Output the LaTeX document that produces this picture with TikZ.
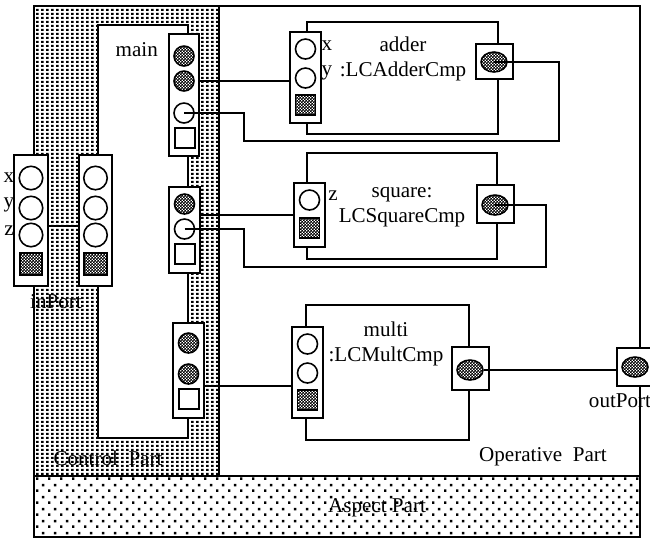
\documentclass[tikz,border=0pt]{standalone}
\usepackage{fontspec}
\setmainfont{Liberation Serif}
\usepackage{tikz}
\usetikzlibrary{patterns, shapes.geometric}

\pgfdeclarepatternformonly{checker}{\pgfpointorigin}{\pgfqpoint{1.6pt}{1.6pt}}{\pgfqpoint{1.6pt}{1.6pt}}{%
  \pgfpathrectangle{\pgfpointorigin}{\pgfqpoint{0.9pt}{0.9pt}}%
  \pgfpathrectangle{\pgfqpoint{0.8pt}{0.8pt}}{\pgfqpoint{0.9pt}{0.9pt}}%
  \pgfusepath{fill}}
\pgfdeclarepatternformonly{densedots}{\pgfpointorigin}{\pgfqpoint{2.6pt}{2.3pt}}{\pgfqpoint{2.6pt}{2.3pt}}{%
  \pgfpathrectangle{\pgfpointorigin}{\pgfqpoint{1.6pt}{1.5pt}}%
  \pgfusepath{fill}}
\pgfdeclarepatternformonly{sparsedots}{\pgfpointorigin}{\pgfqpoint{7pt}{6.6pt}}{\pgfqpoint{7pt}{6.6pt}}{%
  \pgfpathrectangle{\pgfpointorigin}{\pgfqpoint{1.5pt}{1.5pt}}%
  \pgfpathrectangle{\pgfqpoint{3.5pt}{3.3pt}}{\pgfqpoint{1.5pt}{1.5pt}}%
  \pgfusepath{fill}}

\begin{document}
\begin{tikzpicture}[
    x=0.02cm, y=-0.02cm,
    font=\fontsize{12pt}{14.5pt}\selectfont,
    part/.style={draw, line width=1pt},
    comp/.style={draw, line width=1pt, inner sep=0pt},
    portbox/.style={draw, fill=white, line width=0.9pt, inner sep=0pt},
    popen/.style={circle, draw, fill=white, line width=0.9pt, inner sep=0pt,
                  minimum size=0.4cm},
    pfill/.style={popen, pattern=checker},
    pell/.style={ellipse, draw, pattern=checker, line width=0.9pt, inner sep=0pt,
                 minimum width=0.52cm, minimum height=0.4cm},
    sqopen/.style={rectangle, draw, fill=white, line width=0.9pt, inner sep=0pt,
                   minimum size=0.4cm},
    sqfill/.style={sqopen, pattern=checker},
    wire/.style={line width=1.2pt}
  ]
  \useasboundingbox (0,0) rectangle (650,539);

  \draw[part] (34,6) rectangle (640,476);
  \draw[part, pattern=densedots] (34,6) rectangle (219,476);
  \draw[part, fill=white] (98,25) rectangle (188,438);
  \draw[part, pattern=sparsedots] (34,476) rectangle (640,537);

  \node (ctrl) at (108,458) {Control~~Part};
  \node (oper) at (543,457) {Operative~~Part};
  \node (aspect) at (377,508) {Aspect Part};

  \node[comp, minimum width=3.82cm, minimum height=2.24cm] (adder) at (402.5,78) {};
  \node[align=center] (addertxt) at (403,59) {adder\\:LCAdderCmp};
  \node[comp, minimum width=3.8cm, minimum height=2.12cm] (square) at (402,206) {};
  \node[align=center] (squaretxt) at (402,207) {square:\\LCSquareCmp};
  \node[comp, minimum width=3.26cm, minimum height=2.7cm] (multi) at (387.5,372.5) {};
  \node[align=center] (multitxt) at (386,344) {multi\\:LCMultCmp};

  \node[anchor=east] (mainlbl) at (164,50) {main};
  \node[portbox, minimum width=0.6cm, minimum height=2.44cm] (main1) at (184,95) {};
  \node[pfill] (m1a) at (184,56) {};
  \node[pfill] (m1b) at (184,81) {};
  \node[popen] (m1c) at (184,113) {};
  \node[sqopen] (m1d) at (185,138) {};
  \node[portbox, minimum width=0.62cm, minimum height=1.72cm] (main2) at (184.5,230) {};
  \node[pfill] (m2a) at (184.5,204) {};
  \node[popen] (m2b) at (184.5,229) {};
  \node[sqopen] (m2c) at (185,254) {};
  \node[portbox, minimum width=0.62cm, minimum height=1.9cm] (main3) at (188.5,370.5) {};
  \node[pfill] (m3a) at (188.5,343) {};
  \node[pfill] (m3b) at (188.5,374) {};
  \node[sqopen] (m3c) at (189,399) {};

  \foreach \p/\x in {inA/31, inB/95.5} {
    \node[portbox, minimum width=0.67cm, minimum height=2.62cm] (\p) at (\x,220.5) {};
    \foreach \y [count=\i] in {178,208,235}
      \node[popen, minimum size=0.47cm] (\p\i) at (\x,\y) {};
    \node[sqfill, minimum size=0.45cm] (\p4) at (\x,264) {};
  }
  \node (lx) at (9,178) {x};
  \node (ly) at (9,205) {y};
  \node (lz) at (9,231) {z};
  \node (inlbl) at (56,302) {inPort};

  \node[portbox, minimum width=0.62cm, minimum height=1.82cm] (addin) at (305.5,77.5) {};
  \node[popen] (a1) at (305.5,49) {};
  \node[popen] (a2) at (305.5,78) {};
  \node[sqfill] (a3) at (305.5,105) {};
  \node (ax) at (327,46) {x};
  \node (ay) at (327,73) {y};
  \node[portbox, minimum width=0.74cm, minimum height=0.7cm] (addout) at (494.5,61.5) {};
  \node[pell] (aout) at (494,62) {};

  \node[portbox, minimum width=0.62cm, minimum height=1.28cm] (sqin) at (309.5,215) {};
  \node[popen] (s1) at (309.5,200) {};
  \node[sqfill] (s2) at (309.5,228) {};
  \node (sz) at (333,196) {z};
  \node[portbox, minimum width=0.74cm, minimum height=0.76cm] (sqout) at (495.5,204) {};
  \node[pell] (sout) at (495,205) {};

  \node[portbox, minimum width=0.62cm, minimum height=1.82cm] (mulin) at (307.5,372.5) {};
  \node[popen] (u1) at (307.5,344) {};
  \node[popen] (u2) at (307.5,373) {};
  \node[sqfill] (u3) at (307.5,400) {};
  \node[portbox, minimum width=0.74cm, minimum height=0.86cm] (mulout) at (470.5,368.5) {};
  \node[pell] (uout) at (470,370) {};

  \node[portbox, minimum width=0.78cm, minimum height=0.76cm] (outport) at (636.5,367) {};
  \node[pell] (oout) at (635,367) {};
  \node (outlbl) at (620,401) {outPort};

  \coordinate (b1) at (244,141);
  \coordinate (b2) at (559,62);
  \coordinate (b3) at (244,267);
  \coordinate (b4) at (546,205);

  \draw[wire] ([yshift=-0.11cm]inA.east) -- ([yshift=-0.11cm]inB.west);
  \draw[wire] (main1.east |- m1b) -- (addin.west |- m1b);
  \draw[wire] (m1c.center) -| (b1) -| (b2) -- (aout.center);
  \draw[wire] (main2.east |- sqin) -- (sqin.west);
  \draw[wire] (m2b.center) -| (b3) -| (b4) -- (sout.center);
  \draw[wire] ([yshift=-0.31cm]main3.east) coordinate (w5) -- (w5 -| mulin.west);
  \draw[wire] (uout.east) -- (uout.east -| outport.west);
\end{tikzpicture}
\end{document}
